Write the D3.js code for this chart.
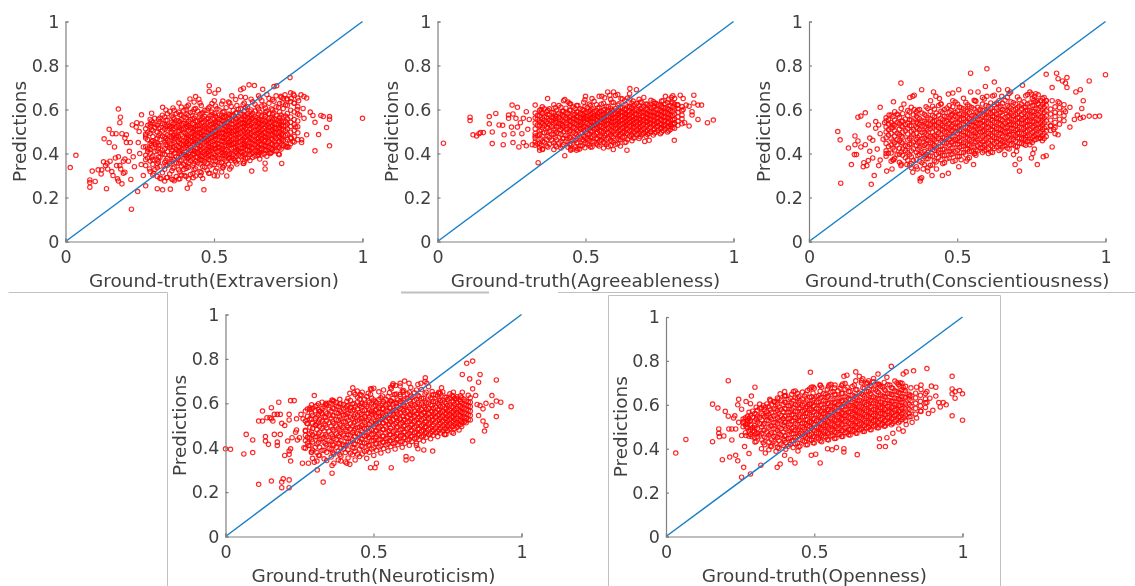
<!DOCTYPE html>
<html>
<head>
<meta charset="utf-8">
<script src="https://cdn.jsdelivr.net/npm/d3@7/dist/d3.min.js"></script>
<style>
html, body { margin: 0; padding: 0; background: #fff; }
svg { display: block; }
text { font-family: "DejaVu Sans", sans-serif; fill: #404040; }
</style>
</head>
<body>
<svg id="chart" width="1135" height="586"></svg>
<script>
// all values are in thousandths
// ground truth is quantized so the dense part is kept as columns: truth value -> predictions
var tickValuesX = [0, 0.5, 1];
var tickValuesY = [0, 0.2, 0.4, 0.6, 0.8, 1];

var extraversionLoose = [[16,336],[35,392],[82,247],[82,268],[82,280],[100,273],[90,320],[110,326],[120,307],[122,326],[130,467],[138,240],[140,356],[147,510],[158,490],[147,450],[178,602],[185,565],[183,540],[222,147],[243,227],[270,253],[309,240],[327,235],[353,238],[410,242],[419,262],[466,235],[511,298],[543,298],[627,320],[672,330],[672,356],[728,355],[756,745],[484,708],[484,682],[515,690],[503,674],[590,690],[599,697],[618,712],[636,709],[664,692],[702,704],[711,708],[560,662],[438,659],[419,648],[449,647],[382,629],[327,610],[256,576],[290,583],[1000,560],[889,568],[889,556],[860,573],[868,568],[879,518],[852,486],[889,435],[840,412],[833,573],[840,542],[812,485],[824,588],[803,560],[793,667],[803,659],[812,652],[767,670],[739,667],[795,462],[795,450],[765,455],[745,432],[128,362],[135,345],[150,365],[156,318],[160,300],[168,380],[172,345],[175,285],[178,275],[186,330],[190,262],[195,310],[200,375],[205,450],[205,485],[212,365],[220,282],[225,530],[240,540],[245,450],[250,400],[165,430],[178,385],[190,490],[200,470],[215,410],[232,340],[255,350],[262,300],[142,330],[170,490],[183,345],[195,365],[200,315],[218,450],[228,385],[238,520],[248,500],[255,535],[262,430],[270,480],[276,380],[285,555],[283,330],[297,310],[300,560],[322,285],[340,290],[362,282],[385,285],[400,300],[430,290],[455,300],[482,310],[530,335],[570,370],[600,355],[650,395],[690,400],[720,395],[752,430],[775,520],[780,600],[770,630],[788,575],[800,605],[760,470],[745,650],[725,660],[730,630],[760,650],[785,640]];
var extraversionTruth = [270,285,294,309,318,334,343,358,366,381,390,406,414,429,438,453,462,477,486,501,510,526,534,549,558,573,582,598,606,621,630,646,654,669,678,693,702,717,726,741];
var extraversionPreds = [
[345,392,431,470,488,512,372],
[318,366,418,446,492,521,534,402],
[302,351,388,429,458,477,503,540,372],
[296,335,371,412,448,469,498,527,355],
[288,342,382,405,437,463,491,518,545,561],
[275,328,359,396,421,452,476,510,532,566],
[291,347,378,408,433,461,484,506,528,552,581],
[283,322,364,392,417,445,472,497,519,541,570],
[276,338,371,401,426,449,468,489,513,538,558,596],
[284,326,356,384,411,432,455,478,502,526,549,588],
[302,343,369,393,418,441,461,486,509,531,555,575,611],
[296,332,362,388,406,428,447,469,491,516,538,563,600],
[285,337,358,381,399,422,443,464,481,504,527,546,572,620],
[309,347,376,397,415,436,455,473,495,514,535,557,590],
[298,331,365,384,408,426,449,466,488,507,524,548,569,604],
[318,352,374,392,413,433,451,472,492,511,530,552,578,630],
[286,341,368,387,405,424,446,462,483,503,521,542,561,585],
[324,355,379,401,419,438,458,477,497,516,536,558,597],
[310,343,372,394,411,429,451,469,487,509,528,549,571,612],
[299,349,381,398,423,441,460,480,499,518,539,556,582,640],
[333,362,386,407,426,445,463,484,502,522,541,563,603],
[316,358,379,403,418,437,456,476,494,513,533,551,574,625],
[345,374,396,415,432,452,471,491,508,527,546,566,592],
[352,377,393,411,435,449,467,488,505,524,544,561,580,634],
[339,369,401,421,440,458,478,496,516,535,552,573,614],
[361,385,409,428,447,465,486,503,521,540,559,584,645],
[372,392,414,431,451,469,489,509,529,547,568,601],
[356,388,407,426,443,462,481,501,519,538,555,578,622],
[378,398,419,437,456,475,493,512,532,551,571,608,655],
[368,394,413,433,452,472,490,510,527,546,566,590],
[382,405,425,444,463,482,500,520,541,560,583,635],
[391,411,430,450,468,487,507,525,544,564,611],
[375,402,421,441,459,479,498,518,537,556,589,652],
[398,417,437,456,476,495,513,533,552,576,620],
[388,415,432,449,471,489,508,528,548,593,668],
[405,423,444,465,484,505,522,541,563,603],
[412,436,457,478,498,517,536,558,584,638],
[398,428,452,474,493,515,531,551,609],
[420,447,469,488,511,529,548,575,655],
[431,456,482,503,526,546,570,622]
];
var extraversionTruthB = [277,290,301,313,326,338,351,362,373,385,398,409,421,433,445,457,469,481,493,505,517,530,541,553,565,577,590,602,613,625,638,650,661,673,685,697,709,721,733,747,758,770,782];
var extraversionPredsB = [
[409,421,463,497,528],
[381,437,455,509,548],
[327,409,441,452,519,533],
[362,383,424,437,481,514,555],
[312,398,415,479,502,536,574],
[349,368,441,457,468,523,551,598],
[307,354,391,427,439,478,512,524,591],
[333,373,414,459,483,508,534,563,607],
[295,358,385,419,436,475,482,521,549,582],
[316,366,402,412,446,465,503,517,544,576],
[327,351,395,424,439,458,494,511,536,566,594],
[341,379,391,437,453,474,483,523,533,578,613],
[305,368,386,414,429,457,476,509,518,554,586],
[326,354,399,409,443,463,485,499,531,561,601,634],
[358,382,404,422,441,459,479,512,525,547,593],
[313,371,387,418,435,467,488,496,539,553,582,618],
[338,362,397,411,454,469,482,515,526,568,596],
[372,389,408,431,447,463,494,507,543,560,606],
[349,384,416,425,456,474,491,518,533,577,588,627],
[321,366,392,421,437,467,479,505,529,545,569,616],
[358,378,412,429,443,476,492,511,537,555,574,598],
[339,391,404,424,458,469,496,514,547,564,587,638],
[366,387,418,436,461,485,499,523,538,569,608],
[329,381,399,441,453,478,506,518,557,577,629],
[376,395,427,446,466,487,502,532,549,571,596],
[352,403,417,438,461,492,511,526,559,586,618],
[385,409,422,455,473,494,515,538,553,579,603,658],
[364,397,434,445,471,503,524,542,569,592,629],
[379,416,431,461,483,498,526,539,562,581,612],
[401,425,447,467,491,514,535,558,574,598,647],
[388,412,439,458,479,505,524,549,567,593,624],
[407,429,453,471,493,513,536,555,578,602,662],
[394,421,442,466,486,507,529,551,572,616,640],
[414,435,461,474,497,521,544,569,587,607],
[402,427,455,481,503,519,538,559,582,628,651],
[418,441,463,487,509,527,552,578,598,645],
[411,438,469,492,514,533,556,574,612,662],
[426,454,477,499,518,541,562,589,627],
[436,459,481,507,525,543,567,604,651],
[429,463,489,512,535,558,582,618,644],
[444,471,497,523,542,566,597,636,676],
[452,478,505,531,554,589,628,664],
[463,494,522,548,579,613,652]
];

var agreeablenessLoose = [[20,447],[110,565],[110,550],[120,485],[132,480],[140,490],[145,495],[155,495],[175,535],[175,568],[185,498],[185,445],[197,582],[208,530],[220,528],[225,485],[222,440],[240,575],[240,560],[252,620],[255,580],[250,520],[255,490],[255,450],[275,430],[270,610],[280,540],[290,450],[300,435],[340,358],[345,415],[372,650],[430,645],[430,390],[470,415],[500,660],[640,415],[595,680],[582,665],[575,680],[555,660],[650,695],[672,690],[650,648],[800,460],[700,455],[715,460],[820,665],[830,650],[866,665],[866,630],[880,620],[892,620],[880,555],[912,540],[932,552],[850,525],[835,540],[800,535],[790,525],[830,600],[850,615],[770,660],[790,655],[790,630],[810,620],[840,620],[860,590],[860,575],[620,650],[450,420],[480,420],[330,620],[350,600],[300,590],[290,560],[305,510],[265,560],[270,520],[285,490],[310,555],[320,440],[330,480],[355,418]];
var agreeablenessTruth = [330,345,354,369,378,393,402,417,426,441,450,465,474,489,498,513,522,537,546,561,570,585,594,609,618,633,642,657,666,681,690,705,714,729,738,753,762,777,786,801];
var agreeablenessPreds = [
[438,452,470,491,512,538,561,584],
[426,447,485,503,526,549,572,596],
[420,455,478,518,537,558,581,612],
[434,463,497,521,544,565,591],
[442,472,501,529,551,574,603],
[418,449,486,512,538,562,586,622],
[431,462,495,519,541,567,597],
[425,456,488,508,532,553,578,610],
[440,468,499,522,545,569,592,640],
[428,451,481,511,534,557,582,634],
[415,444,473,504,527,548,571,598,625],
[430,459,490,515,536,556,579,605],
[422,449,476,502,525,547,568,589,618],
[435,463,493,517,539,559,578,600],
[426,448,470,497,520,541,563,584,612,644],
[438,461,486,510,531,552,572,592,625],
[430,454,478,502,524,544,564,583,603,650],
[444,468,491,513,534,553,573,594,622],
[434,457,480,504,526,546,566,586,610,660],
[425,450,473,498,519,539,558,577,597,628],
[441,465,490,511,532,550,570,589,615],
[436,459,484,507,528,547,567,585,606,645],
[418,451,476,500,521,541,560,579,598,632],
[443,469,494,516,536,555,574,593,620,668],
[434,462,487,508,530,549,569,588,610],
[450,475,499,522,541,561,580,600,640],
[465,488,511,533,552,571,590,612,652],
[458,483,506,528,547,566,586,606,628],
[472,497,518,539,558,578,597,622],
[468,490,513,534,554,573,592,616,646],
[486,507,527,548,567,587,608,632],
[478,500,523,543,562,582,603,625],
[491,514,536,556,575,594,618],
[484,508,529,550,570,590,611,636],
[497,520,541,561,581,602,628],
[490,513,535,555,576,596,620],
[504,526,547,567,588,610,640],
[498,520,541,562,583,605,632],
[508,531,553,574,595,618],
[515,538,558,580,602,625,650]
];
var agreeablenessTruthB = [337,350,361,373,386,398,410,422,434,446,458,470,482,494,506,517,529,541,553,565,577,589,601,613,625,637,649,661,673,685,697,709,721,733,745,757,769,781,795,812,826];
var agreeablenessPredsB = [
[445,481,529,556,573],
[437,466,508,543,588],
[452,494,527,551,567,603],
[429,478,515,536,578,596],
[461,489,523,549,562,587],
[438,473,507,543,558,571,609],
[448,491,524,536,563,583,618],
[433,468,516,528,549,574,592],
[456,483,509,539,561,586,606],
[441,475,502,527,551,564,596,627],
[421,462,497,519,542,559,576,611],
[448,486,508,533,552,567,589,618],
[435,471,513,529,544,563,581,603],
[459,479,506,523,549,561,574,598,633],
[444,467,491,514,538,557,569,587,608],
[429,473,502,521,546,559,577,596,618],
[452,484,512,528,541,562,573,591,637],
[439,466,495,518,537,551,568,581,606],
[461,476,501,522,543,556,576,592,624],
[448,483,508,529,548,563,579,601,653],
[431,469,494,516,536,552,567,594,613],
[455,477,503,525,542,559,575,597,633],
[442,487,512,531,548,564,583,604,664],
[463,481,505,527,544,561,581,598,626],
[473,496,517,535,552,572,586,607,648],
[452,491,512,529,546,563,579,602,621],
[478,503,524,541,559,576,594,613,672],
[471,497,519,537,553,569,592,618,638],
[486,508,525,545,561,577,599,627],
[476,502,521,541,556,581,604,634],
[493,514,532,551,571,585,613,655],
[487,506,529,546,564,579,599,624],
[499,518,538,553,573,589,609,642],
[493,511,533,549,569,586,614,628],
[505,523,545,562,579,599,622],
[497,517,531,552,572,591,613,638],
[511,529,549,565,586,607,626],
[503,524,544,561,579,601,647],
[518,534,555,571,592,611,631,662],
[528,547,566,587,604,621],
[535,558,574,594,613]
];

var conscientiousnessLoose = [[97,500],[105,462],[107,265],[133,425],[143,350],[153,395],[155,440],[155,480],[165,457],[165,565],[175,570],[183,340],[185,358],[190,585],[195,345],[200,368],[200,530],[205,470],[210,260],[220,300],[225,545],[240,370],[235,345],[240,610],[262,320],[280,330],[285,635],[310,720],[320,625],[340,655],[350,660],[355,665],[355,600],[380,690],[380,290],[375,275],[375,285],[420,680],[428,660],[440,650],[450,300],[470,310],[470,670],[485,675],[505,690],[505,340],[530,365],[545,680],[555,350],[545,765],[570,680],[595,705],[600,785],[625,725],[640,690],[670,690],[695,350],[710,320],[710,375],[690,395],[720,710],[750,380],[755,400],[790,385],[800,390],[820,430],[815,525],[825,510],[830,490],[840,485],[800,760],[835,765],[840,740],[855,730],[865,720],[870,745],[870,700],[900,680],[915,690],[820,700],[880,520],[895,555],[915,560],[925,565],[925,640],[920,605],[930,445],[945,570],[965,568],[945,730],[1000,758],[980,570],[905,575],[880,610],[865,590],[840,635],[820,640],[800,640],[240,490],[250,465],[260,400],[270,575],[285,370],[300,575],[310,345],[330,350],[345,335],[350,315],[365,330],[385,330],[400,320],[415,300],[430,330],[160,395],[175,430],[190,440],[205,410],[215,380],[230,420],[215,460],[225,515],[235,530],[255,540],[410,640],[445,625],[560,640],[600,660],[650,660],[680,680],[560,400],[605,400],[660,395],[700,410],[730,465],[745,440],[760,420],[780,470],[770,350],[750,670],[760,660],[770,640]];
var conscientiousnessTruth = [260,277,289,305,316,333,345,362,373,389,401,417,429,445,457,473,485,501,513,529,541,557,569,585,597,613,625,641,653,669,681,697,709,725,737,753,765,781,793];
var conscientiousnessPreds = [
[388,412,446,472,498,521,548,562],
[365,402,438,466,491,516,541,575],
[378,416,449,479,503,528,552,590],
[360,397,424,458,486,511,535,563],
[392,420,447,474,497,522,546,581],
[370,404,432,461,489,514,538,572,595],
[355,385,412,444,476,501,526,552,610],
[340,372,406,438,463,491,518,541,569,590],
[365,395,428,456,481,508,533,558,600],
[350,385,410,437,469,494,522,546,578],
[335,376,404,431,458,483,509,536,562,605],
[348,388,418,445,471,497,521,545,573,615],
[362,396,425,452,477,503,526,551,584],
[372,402,433,459,486,511,535,560,592,625],
[358,391,420,448,472,498,520,543,569,600],
[380,408,437,464,489,513,537,561,588,618],
[364,399,426,454,479,505,530,553,579,612,640],
[387,415,442,467,491,516,541,564,594,625],
[372,405,432,458,484,508,532,556,582,608],
[394,421,447,473,497,520,544,570,597,632],
[381,410,438,463,489,512,536,560,585,615],
[399,428,453,479,503,527,550,575,602,642],
[412,435,461,485,510,533,556,581,610],
[404,426,452,476,500,524,547,571,596,625,655],
[417,443,468,493,516,539,563,589,618],
[408,436,461,485,509,532,556,582,604,630],
[423,447,472,497,520,543,567,592,622,665],
[414,439,465,488,512,536,559,584,610,640],
[430,455,480,504,527,551,575,600,628],
[425,448,473,497,521,544,568,594,618,655],
[440,464,488,512,534,558,581,606,635],
[433,456,481,505,528,552,577,602,625],
[447,470,494,518,542,564,589,615,645],
[442,466,490,513,536,560,585,610,635],
[456,479,503,526,550,574,598,625,668],
[450,473,497,520,544,568,592,618,650],
[464,487,510,534,557,581,606,635,672],
[470,495,518,541,565,589,612,640],
[468,492,516,540,562,586,610,632,655]
];
var conscientiousnessTruthB = [268,283,297,311,325,339,352,367,381,395,409,423,437,451,465,479,493,507,521,535,549,563,577,591,605,619,633,647,661,675,689,703,717,731,745,759,773,787,800,815,830,845,860];
var conscientiousnessPredsB = [
[401,432,484,509,534,553],
[372,425,457,518,529,568],
[394,439,462,492,541,579],
[352,407,451,478,524,548,604],
[381,413,436,503,532,557],
[347,394,441,468,526,553,589],
[368,421,452,486,509,544,576],
[392,418,449,473,514,537,563,597],
[358,404,434,466,497,525,549,584],
[376,397,443,462,488,515,538,572,612],
[346,389,424,449,477,512,531,556,591],
[367,414,437,461,483,529,548,567,602],
[381,403,431,468,494,516,541,574,618],
[354,393,419,451,474,507,528,553,586],
[376,411,446,469,496,519,546,567,607],
[396,424,451,478,503,524,549,574,596],
[368,407,443,462,496,518,539,571,587,634],
[386,427,456,473,505,526,553,578,611],
[403,434,449,482,499,534,559,576,603,651],
[375,419,441,469,493,518,542,566,592,622],
[408,431,457,481,506,529,546,572,609],
[392,416,452,477,494,521,541,567,588,637],
[426,442,466,498,512,537,554,579,601],
[411,437,458,483,504,528,549,576,597,648],
[422,447,474,491,518,538,562,588,613],
[405,431,457,479,507,523,551,569,593,661],
[429,453,469,494,515,542,561,579,607,629],
[419,444,461,492,508,533,554,586,615],
[435,451,476,499,517,539,564,597,642],
[421,458,484,502,531,547,571,589,612,673],
[439,462,487,514,529,554,572,599,631],
[432,471,493,509,538,561,583,608,657],
[446,468,491,516,537,553,577,602,624],
[438,475,499,523,545,567,594,611,662],
[453,481,507,528,548,571,596,629,679],
[461,478,501,524,546,572,591,618,643],
[468,489,515,533,554,578,603,627,667],
[458,482,508,529,551,569,598,623,651],
[477,501,522,548,571,594,619,641],
[505,527,552,579,602],
[518,541,568,587,612],
[533,556,584,608,630],
[549,572,598,622]
];

var neuroticismLoose = [[0,395],[17,393],[62,372],[70,460],[92,435],[92,378],[112,235],[112,520],[125,520],[125,565],[135,450],[135,430],[145,415],[150,535],[155,530],[175,410],[175,425],[155,250],[155,580],[165,550],[165,460],[175,550],[180,605],[185,550],[195,260],[200,365],[185,460],[190,510],[190,245],[215,255],[220,612],[232,612],[215,525],[215,220],[220,395],[215,550],[240,530],[190,220],[215,385],[220,340],[215,370],[260,330],[280,330],[300,635],[300,335],[310,300],[330,245],[360,285],[360,320],[390,340],[410,330],[420,325],[430,670],[420,645],[445,655],[455,640],[490,665],[490,640],[490,310],[505,310],[510,330],[560,310],[560,665],[570,640],[590,640],[600,650],[560,610],[565,680],[575,680],[590,690],[605,700],[620,690],[660,690],[680,690],[675,715],[610,360],[610,345],[630,350],[650,395],[670,390],[645,410],[700,385],[740,460],[745,460],[770,465],[800,730],[815,780],[835,790],[825,710],[860,730],[855,695],[835,665],[845,635],[800,650],[810,520],[835,430],[855,545],[870,520],[875,475],[880,500],[860,590],[900,635],[915,705],[915,610],[915,540],[930,605],[965,585],[900,590],[880,600],[870,575],[850,595],[770,650],[780,620],[730,670],[720,650],[240,480],[250,445],[265,400],[270,475],[275,510],[285,580],[305,500],[320,565],[200,500],[210,430],[225,445],[237,470],[243,435],[255,550],[262,530],[140,535],[160,520],[280,410],[290,380],[360,615],[340,600]];
var neuroticismTruth = [270,285,294,309,318,333,342,357,366,381,390,405,414,429,438,453,462,477,486,501,510,525,534,549,558,573,582,597,606,621,630,645,654,669,678,693,702,717,726,741,750,765,774,789,798,813,827];
var neuroticismPreds = [
[398,432,455,478,520,565],
[410,444,463,492,530,572],
[352,389,426,458,487,511,546,578],
[340,378,417,449,482,507,538,590],
[365,402,438,470,495,527,562],
[350,388,423,447,476,508,541,586],
[342,380,412,452,489,521,553,592],
[358,392,428,461,497,534,566,600],
[330,371,410,441,475,509,544,576,610],
[345,385,420,454,488,523,555,585],
[362,397,431,466,499,529,562,598],
[336,378,411,446,481,515,548,580],
[354,390,425,459,492,524,557,590,622],
[368,402,436,468,498,531,565,596],
[345,383,415,451,486,518,551,584,640],
[360,394,428,461,493,526,558,590,618],
[372,406,439,471,503,534,566,600,650],
[352,388,421,455,487,520,552,586,630],
[380,412,444,476,505,538,570,604],
[365,399,431,462,494,525,556,587,615,668],
[388,420,450,479,510,540,573,603],
[376,408,436,468,497,528,560,590,625],
[396,425,452,483,512,543,574,608,660],
[386,416,443,473,504,534,565,596,630],
[405,431,459,488,517,547,578,610,672],
[394,422,450,479,508,538,569,600,640],
[414,440,466,494,522,551,582,615],
[402,428,456,484,513,543,574,605,655],
[420,446,472,500,527,556,586,620],
[411,437,464,491,519,549,580,612,650],
[428,453,479,505,533,560,590,625],
[420,445,470,498,525,552,583,618,660],
[437,461,486,512,538,566,596,630],
[430,454,478,504,531,558,588,622],
[447,470,495,519,545,572,602,650],
[440,464,488,512,538,565,594,625],
[456,480,503,527,552,578,608,640],
[450,473,497,522,546,571,600,632],
[466,490,512,535,559,585,612,645],
[460,484,506,530,553,578,605,628],
[478,500,522,544,566,590,618],
[470,494,516,538,560,584,610,635],
[486,508,528,550,572,596,622],
[480,503,524,546,568,590,616],
[495,516,536,558,579,600,625],
[512,532,552,572,592,610],
[525,545,565,585,605,625]
];
var neuroticismTruthB = [277,291,303,314,326,338,350,362,374,386,398,410,422,434,446,458,470,482,494,506,518,530,542,554,566,578,590,602,614,626,638,650,662,674,686,698,710,722,734,746,758,770,782,794,806,820];
var neuroticismPredsB = [
[421,447,509,541,574],
[379,436,471,528,556,593],
[402,449,503,532,567,586],
[366,424,462,516,548,571,598],
[388,441,487,519,553,577,605],
[418,458,501,536,561,594],
[397,433,474,512,546,573,601],
[379,416,452,483,517,544,579,611],
[402,437,463,498,526,557,588,603],
[369,421,449,478,507,539,569,597,618],
[393,413,457,491,518,547,574,594],
[412,441,473,499,534,553,586,609],
[376,427,457,484,508,537,569,581,613],
[398,417,449,477,511,542,571,599,648],
[371,431,463,491,521,547,576,606,627],
[406,439,478,499,532,551,583,598,636],
[383,421,452,486,513,541,569,594,619],
[411,447,468,493,528,556,578,611,645],
[394,432,459,482,516,549,563,597,624,663],
[418,443,474,503,519,547,567,592,608],
[403,436,461,489,512,538,558,581,617,652],
[426,452,482,509,533,554,576,599,633],
[412,441,467,497,521,544,569,593,618],
[431,458,477,506,529,552,579,601,648],
[419,447,473,502,526,548,568,597,623,688],
[437,461,489,514,535,561,587,603,642],
[426,453,481,507,529,556,576,608,631,678],
[444,469,496,523,542,567,594,614,658],
[435,458,486,517,539,563,589,621,643],
[451,476,501,527,548,571,598,632,671],
[441,468,493,519,541,564,592,613,647],
[458,482,509,531,554,577,604,636,685],
[449,475,499,526,549,572,597,622,662],
[466,491,514,537,558,581,611,642,698],
[459,484,507,532,554,576,601,633,675],
[473,497,522,541,563,589,619,653],
[467,489,516,537,559,582,607,638],
[481,504,527,549,571,593,621,646],
[474,498,519,542,563,587,614,651],
[488,511,533,554,577,599,627],
[483,507,527,548,569,592,622,643],
[497,518,538,561,582,607,631],
[491,512,531,556,576,603,629],
[503,524,543,564,587,609,634],
[515,538,557,578,597,618],
[526,548,569,588,606,636]
];

var opennessLoose = [[33,380],[67,442],[157,603],[157,432],[175,585],[178,490],[178,470],[190,350],[180,455],[195,458],[200,570],[210,548],[210,710],[215,362],[212,490],[222,490],[222,440],[235,370],[232,550],[228,540],[242,345],[245,625],[242,600],[255,270],[255,580],[262,315],[265,410],[270,615],[280,378],[285,605],[285,285],[288,640],[300,430],[300,680],[320,325],[322,400],[335,380],[375,315],[385,330],[400,370],[400,660],[420,350],[435,335],[445,390],[487,748],[490,370],[505,375],[520,335],[545,400],[560,395],[575,405],[600,400],[600,385],[645,373],[720,410],[600,730],[610,735],[640,750],[652,730],[700,720],[715,740],[760,775],[745,725],[800,740],[810,750],[835,755],[880,765],[880,660],[895,685],[910,680],[790,700],[800,680],[845,680],[860,690],[860,670],[830,520],[810,510],[800,480],[820,545],[845,540],[860,570],[885,560],[900,575],[925,590],[935,610],[965,730],[965,672],[965,650],[975,630],[975,660],[990,665],[1000,650],[1000,530],[965,550],[945,600],[920,610],[910,640],[890,630],[880,610],[770,430],[740,410],[745,450],[720,445],[765,470],[785,490],[430,660],[400,640],[385,650],[365,615],[350,625],[335,590],[300,495],[310,470],[270,460],[262,525],[270,500],[280,480],[290,455],[255,460],[245,520],[235,490],[490,680],[520,690],[550,690],[570,690],[660,710],[680,700],[720,690],[820,640]];
var opennessTruth = [260,275,285,299,308,323,333,347,356,371,381,395,404,419,429,443,452,467,477,491,500,515,525,539,548,563,573,587,596,611,621,635,644,659,669,683,692,707,717,731,740,755,765,779,789,803,820];
var opennessPreds = [
[500,518,535],
[495,512,530,548],
[465,488,508,528,552],
[450,478,505,526,560],
[455,492,520,548,575],
[440,470,500,532,560,585],
[418,452,485,515,545,578],
[395,430,462,498,528,558,592],
[410,440,472,505,534,566,600],
[388,425,458,490,520,552,582,612],
[402,436,468,498,530,560,590,628],
[415,445,476,508,537,569,602],
[398,428,460,490,522,550,580,610,642],
[420,448,478,508,538,566,596,630],
[405,438,468,498,526,556,586,618],
[425,454,482,510,538,568,598,630,652],
[412,442,470,500,530,558,588,620],
[432,460,488,516,545,574,604,640],
[418,447,475,505,532,562,592,622,665],
[438,466,492,520,548,576,606,636],
[426,454,482,510,538,568,596,628,675],
[444,470,496,524,552,580,610,642],
[432,460,488,515,542,572,600,634,680],
[452,478,504,530,558,586,616,648],
[440,468,494,522,550,578,606,640,682],
[458,484,510,536,564,592,622,660],
[448,474,500,528,555,584,612,645],
[465,490,516,542,570,598,628,675],
[456,482,508,534,562,590,618,652,695],
[472,498,524,550,576,604,634,680],
[462,488,514,540,568,596,625,660],
[480,504,530,556,582,610,640,690],
[470,496,522,548,574,602,632,668],
[488,512,538,564,590,618,650,700],
[478,504,530,556,582,610,640,675],
[496,520,545,570,598,625,660,710],
[486,512,538,564,590,618,648,685],
[504,528,552,578,604,632,668],
[495,520,546,572,598,626,656,695],
[512,536,560,586,612,640,680],
[504,530,554,580,606,634,665],
[520,544,568,594,620,650,690],
[515,540,565,590,616,645,675],
[530,554,578,602,628,660,700],
[525,548,572,598,624,652,685],
[540,562,586,610,636,665],
[560,580,602,625,648]
];
var opennessTruthB = [268,280,292,304,316,328,340,352,364,376,388,400,412,424,436,448,460,472,484,496,508,520,532,544,556,568,580,592,604,616,628,640,652,664,676,688,700,712,724,736,748,760,772,784,796,808,826,842,858,875];
var opennessPredsB = [
[473,509,541],
[457,523,538,566],
[481,497,543,571],
[433,469,534,557,589],
[462,514,541,584,603],
[427,483,509,553,597],
[449,476,529,551,568,604],
[412,467,503,542,577,619],
[433,456,491,519,549,581,613],
[406,451,483,513,541,574,603,631],
[421,463,491,527,551,579,621],
[438,457,502,519,547,583,612,641],
[411,447,483,514,538,567,596,624],
[435,469,493,527,553,577,607,648],
[423,452,486,515,543,571,601,632,663],
[409,461,489,527,548,582,609,638],
[437,466,497,517,544,569,597,627,658],
[418,453,479,511,533,561,585,613,648],
[441,463,501,524,556,583,601,634,672],
[427,457,486,514,537,567,594,619,653,681],
[449,473,498,529,557,584,613,638],
[436,467,491,518,546,572,599,631,662,688],
[454,481,507,533,561,587,621,651],
[442,473,502,527,553,579,607,636,671],
[459,487,514,541,569,596,628,658,693],
[447,477,506,532,562,589,611,647,677],
[466,492,518,546,573,602,633,664],
[456,483,511,537,564,591,618,652,688],
[473,497,526,553,579,608,639,671,697],
[463,489,518,544,567,598,627,661],
[481,506,533,559,586,614,644,683],
[471,499,524,551,578,606,636,669,709],
[486,513,542,568,594,622,654],
[479,507,534,561,587,613,646,678,718],
[494,521,547,573,601,631,663,698],
[487,516,541,566,592,621,652,688],
[503,528,553,579,608,637,672,705],
[496,522,548,574,603,629,661,693],
[508,534,561,586,613,646,683],
[502,527,557,581,607,638,671,702],
[516,542,569,593,622,653,691],
[509,536,563,589,616,647,678],
[524,551,576,601,631,664,708],
[518,544,571,596,627,656,692],
[533,559,583,611,638,669,698],
[529,553,581,604,633,663,684],
[547,572,594,618,642,677],
[558,584,607,631,653],
[572,595,616,643],
[588,609,627,652]
];

var frameColor = "#c0c0c0";
var markerColor = "#ff0000";
var lineColor = "#1a80c6";

// positions of the five panels on the page
var panels = [
    { label: "Ground-truth(Extraversion)", loose: extraversionLoose, truth: extraversionTruth, preds: extraversionPreds, truthB: extraversionTruthB, predsB: extraversionPredsB, x0: 65.5, x1: 362.5, y0: 241.5, y1: 21.5 },
    { label: "Ground-truth(Agreeableness)", loose: agreeablenessLoose, truth: agreeablenessTruth, preds: agreeablenessPreds, truthB: agreeablenessTruthB, predsB: agreeablenessPredsB, x0: 437.5, x1: 733.5, y0: 241.5, y1: 21.5 },
    { label: "Ground-truth(Conscientiousness)", loose: conscientiousnessLoose, truth: conscientiousnessTruth, preds: conscientiousnessPreds, truthB: conscientiousnessTruthB, predsB: conscientiousnessPredsB, x0: 809, x1: 1105.5, y0: 241.5, y1: 21.5 },
    { label: "Ground-truth(Neuroticism)", loose: neuroticismLoose, truth: neuroticismTruth, preds: neuroticismPreds, truthB: neuroticismTruthB, predsB: neuroticismPredsB, x0: 225.5, x1: 521.5, y0: 536.5, y1: 314.5 },
    { label: "Ground-truth(Openness)", loose: opennessLoose, truth: opennessTruth, preds: opennessPreds, truthB: opennessTruthB, predsB: opennessPredsB, x0: 666, x1: 962.5, y0: 536.5, y1: 317 }
];

var svg = d3.select("#chart");
svg.append("rect").attr("width", 1135).attr("height", 586).attr("fill", "#fff");

// slight blur, the source picture is a rescaled screenshot
var blur = svg.append("defs").append("filter").attr("id", "soft")
    .attr("filterUnits", "userSpaceOnUse")
    .attr("x", 0).attr("y", 0).attr("width", 1135).attr("height", 586);
blur.append("feGaussianBlur").attr("stdDeviation", 0.35);

var root = svg.append("g").attr("filter", "url(#soft)");

// leftover frame lines of the pasted figures
var frames = root.append("g").attr("fill", "none").attr("stroke", frameColor);
frames.append("path").attr("d", "M8.5,292.5H167.5V586");
frames.append("path").attr("d", "M401,292.5H489").attr("stroke-width", 2);
frames.append("path").attr("d", "M558,292.5H1135");
frames.append("path").attr("d", "M608.5,586V295.5H1000.5V586");

function columnsToPoints(truth, preds) {
    var points = [];
    truth.forEach(function (t, i) {
        preds[i].forEach(function (p) { points.push([t, p]); });
    });
    return points;
}

function drawPanel(panel) {
    var x = d3.scaleLinear().domain([0, 1]).range([panel.x0, panel.x1]);
    var y = d3.scaleLinear().domain([0, 1]).range([panel.y0, panel.y1]);
    var g = root.append("g");

    var points = panel.loose
        .concat(columnsToPoints(panel.truth, panel.preds))
        .concat(columnsToPoints(panel.truthB, panel.predsB));
    g.append("g").selectAll("circle").data(points).enter().append("circle")
        .attr("cx", function (d) { return x(d[0] / 1000); })
        .attr("cy", function (d) { return y(d[1] / 1000); })
        .attr("r", 2.2)
        .attr("fill", "none")
        .attr("stroke", markerColor)
        .attr("stroke-opacity", 0.85)
        .attr("stroke-width", 1.15);

    g.append("path")
        .attr("d", d3.line().x(function (d) { return x(d); }).y(function (d) { return y(d); })([0, 1]))
        .attr("fill", "none")
        .attr("stroke", lineColor)
        .attr("stroke-width", 1.5);

    var xAxis = g.append("g").attr("transform", "translate(0," + panel.y0 + ")")
        .call(d3.axisBottom(x).tickValues(tickValuesX).tickFormat(d3.format("~g")).tickSize(-3).tickPadding(9));
    var yAxis = g.append("g").attr("transform", "translate(" + panel.x0 + ",0)")
        .call(d3.axisLeft(y).tickValues(tickValuesY).tickFormat(d3.format("~g")).tickSize(-3).tickPadding(6));

    [xAxis, yAxis].forEach(function (axis) {
        axis.attr("font-family", null).attr("font-size", null);
        axis.selectAll("path,line").attr("stroke", "#808080").attr("stroke-width", 1.2);
        axis.selectAll("text").style("font-size", "17.5px").attr("fill", "#404040");
    });

    g.append("text")
        .attr("x", (panel.x0 + panel.x1) / 2)
        .attr("y", panel.y0 + 45.5)
        .attr("text-anchor", "middle")
        .style("font-size", "18.4px")
        .text(panel.label);

    g.append("text")
        .attr("transform", "translate(" + (panel.x0 - 39.5) + "," + ((panel.y0 + panel.y1) / 2) + ") rotate(-90)")
        .attr("text-anchor", "middle")
        .style("font-size", "18.4px")
        .text("Predictions");
}

panels.forEach(drawPanel);
</script>
</body>
</html>
